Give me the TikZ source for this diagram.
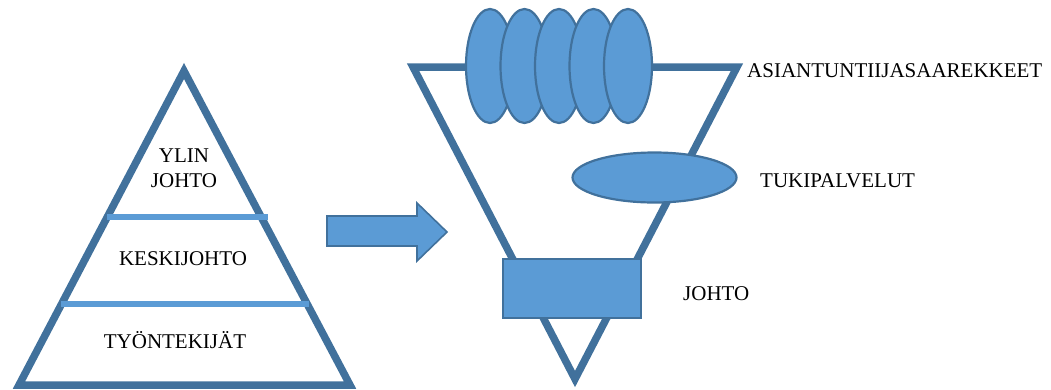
\documentclass[tikz,border=0pt]{standalone}
\usepackage{fontspec}
\setmainfont{Liberation Serif}
\begin{document}
\begin{tikzpicture}[x=1pt,y=-1pt,
  outline/.style={draw=edgeblue,line width=7.5pt,line join=miter},
  blob/.style={draw=edgeblue,line width=2.2pt,fill=fillblue},
  layerline/.style={draw=fillblue,line width=6pt},
  lbl/.style={font=\fontsize{21}{25}\selectfont,inner sep=0pt,anchor=base},
  sidelbl/.style={lbl,anchor=base west}]
\definecolor{edgeblue}{HTML}{41719C}
\definecolor{fillblue}{HTML}{5B9BD5}
\useasboundingbox (0,0) rectangle (1051,389);

% organisation pyramid
\draw[outline] (184,71) -- (350,385) -- (19,385) -- cycle;
\draw[layerline] (107,216.5) -- (268,216.5);
\draw[layerline] (61,303.5) -- (309,303.5);
\node[lbl] (ylin) at (184,162) {YLIN};
\node[lbl] (johtoA) at (184,187) {JOHTO};
\node[lbl] (keski) at (183,265) {KESKIJOHTO};
\node[lbl] (tyont) at (175,348) {TYÖNTEKIJÄT};

% block arrow
\draw[draw=edgeblue,line width=1.6pt,fill=fillblue,line join=miter]
  (327,216) -- (417,216) -- (417,203) -- (447,232) -- (417,261)
  -- (417,246) -- (327,246) -- cycle;

% inverted organisation
\draw[outline] (413,67) -- (737,67) -- (575,379) -- cycle;
\foreach \cx in {490,524.5,559,593.5,628}
  \draw[blob] (\cx,66) ellipse [x radius=24, y radius=57];
\draw[blob] (654.5,177.5) ellipse [x radius=82, y radius=25];
\draw[draw=edgeblue,line width=2pt,fill=fillblue] (503,259) rectangle (641,318);

\node[sidelbl] (asiant) at (747,77) {ASIANTUNTIIJASAAREKKEET};
\node[sidelbl] (tuki) at (760,187) {TUKIPALVELUT};
\node[sidelbl] (johtoB) at (683,300) {JOHTO};
\end{tikzpicture}
\end{document}
